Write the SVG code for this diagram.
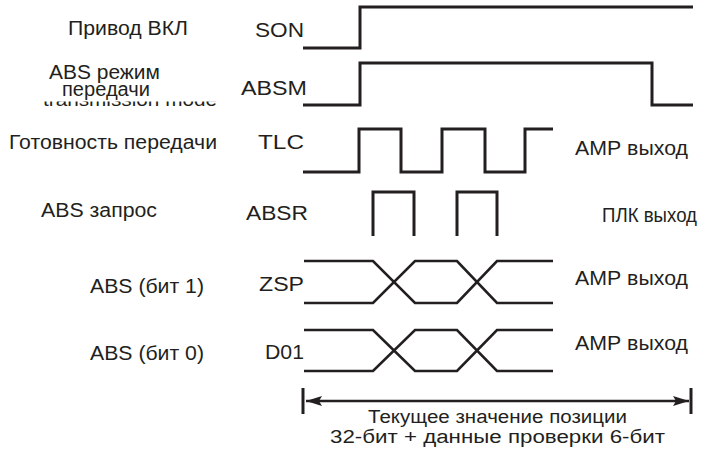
<svg xmlns="http://www.w3.org/2000/svg" width="710" height="452" viewBox="0 0 710 452">
<style>
.sig{fill:none;stroke:#231f20;stroke-width:3;stroke-linejoin:miter;stroke-linecap:butt}
.dat{fill:none;stroke:#231f20;stroke-width:2.6;stroke-linejoin:miter}
.dim{fill:none;stroke:#231f20;stroke-width:2.6}
.bar{fill:none;stroke:#231f20;stroke-width:3}
text{font-family:"Liberation Sans",Arial,sans-serif;font-size:20px;fill:#231f20}
.sm{font-size:18px}
.cut{font-size:19px}
</style>
<defs>
<marker id="ah" viewBox="0 0 16 10" refX="16" refY="5" markerWidth="16" markerHeight="10" markerUnits="userSpaceOnUse" orient="auto-start-reverse">
<path d="M0,0 L16,5 L0,10 L3,5 Z" fill="#231f20"/>
</marker>
<clipPath id="cl"><rect x="30" y="101.5" width="200" height="10"/></clipPath>
</defs>
<g id="son">
<text x="68" y="35" textLength="120" lengthAdjust="spacingAndGlyphs">Привод ВКЛ</text>
<text x="255" y="37" textLength="49" lengthAdjust="spacingAndGlyphs">SON</text>
<path class="sig" d="M303,48 H360 V7 H693"/>
</g>
<g id="absm">
<text class="cut" x="43" y="105.5" textLength="174" lengthAdjust="spacingAndGlyphs" clip-path="url(#cl)">transmission mode</text>
<text x="49" y="79" textLength="111" lengthAdjust="spacingAndGlyphs">ABS режим</text>
<text x="62" y="96" textLength="88" lengthAdjust="spacingAndGlyphs">передачи</text>
<text x="241" y="95" textLength="66" lengthAdjust="spacingAndGlyphs">ABSM</text>
<path class="sig" d="M303,105 H360 V63 H652 V105 H693"/>
</g>
<g id="tlc">
<text x="9" y="149" textLength="208" lengthAdjust="spacingAndGlyphs">Готовность передачи</text>
<text x="258" y="149" textLength="46" lengthAdjust="spacingAndGlyphs">TLC</text>
<text x="575" y="155" textLength="113" lengthAdjust="spacingAndGlyphs">АМР выход</text>
<path class="sig" d="M303,172 H359 V129 H401 V172 H442 V129 H485 V172 H525 V129 H553"/>
</g>
<g id="absr">
<text x="41" y="217" textLength="116" lengthAdjust="spacingAndGlyphs">ABS запрос</text>
<text x="246" y="220" textLength="62" lengthAdjust="spacingAndGlyphs">ABSR</text>
<text x="602" y="222" textLength="95" lengthAdjust="spacingAndGlyphs">ПЛК выход</text>
<path class="sig" d="M373,236 V192 H414 V236 M457,236 V192 H497 V236"/>
</g>
<g id="zsp">
<text x="90" y="293" textLength="114" lengthAdjust="spacingAndGlyphs">ABS (бит 1)</text>
<text x="259" y="291" textLength="45" lengthAdjust="spacingAndGlyphs">ZSP</text>
<text x="575" y="285" textLength="113" lengthAdjust="spacingAndGlyphs">АМР выход</text>
<path class="dat" d="M304,261 H373 L415,303 H457 L497,261 H553"/>
<path class="dat" d="M304,303 H373 L415,261 H457 L497,303 H553"/>
</g>
<g id="d01">
<text x="90" y="360" textLength="114" lengthAdjust="spacingAndGlyphs">ABS (бит 0)</text>
<text x="265" y="359" textLength="39" lengthAdjust="spacingAndGlyphs">D01</text>
<text x="575" y="350" textLength="113" lengthAdjust="spacingAndGlyphs">АМР выход</text>
<path class="dat" d="M304,330 H373 L415,371 H457 L497,330 H553"/>
<path class="dat" d="M304,371 H373 L415,330 H457 L497,371 H553"/>
</g>
<g id="connectors">
<line class="bar" x1="303" y1="388" x2="303" y2="414"/>
<line class="bar" x1="691" y1="388" x2="691" y2="414"/>
<line class="dim" x1="306" y1="401" x2="689" y2="401" marker-start="url(#ah)" marker-end="url(#ah)"/>
</g>
<g id="span-label">
<text class="sm" x="368" y="423" textLength="259" lengthAdjust="spacingAndGlyphs">Текущее значение позиции</text>
<text class="sm" x="330" y="443" textLength="335" lengthAdjust="spacingAndGlyphs">32-бит + данные проверки 6-бит</text>
</g>
</svg>
